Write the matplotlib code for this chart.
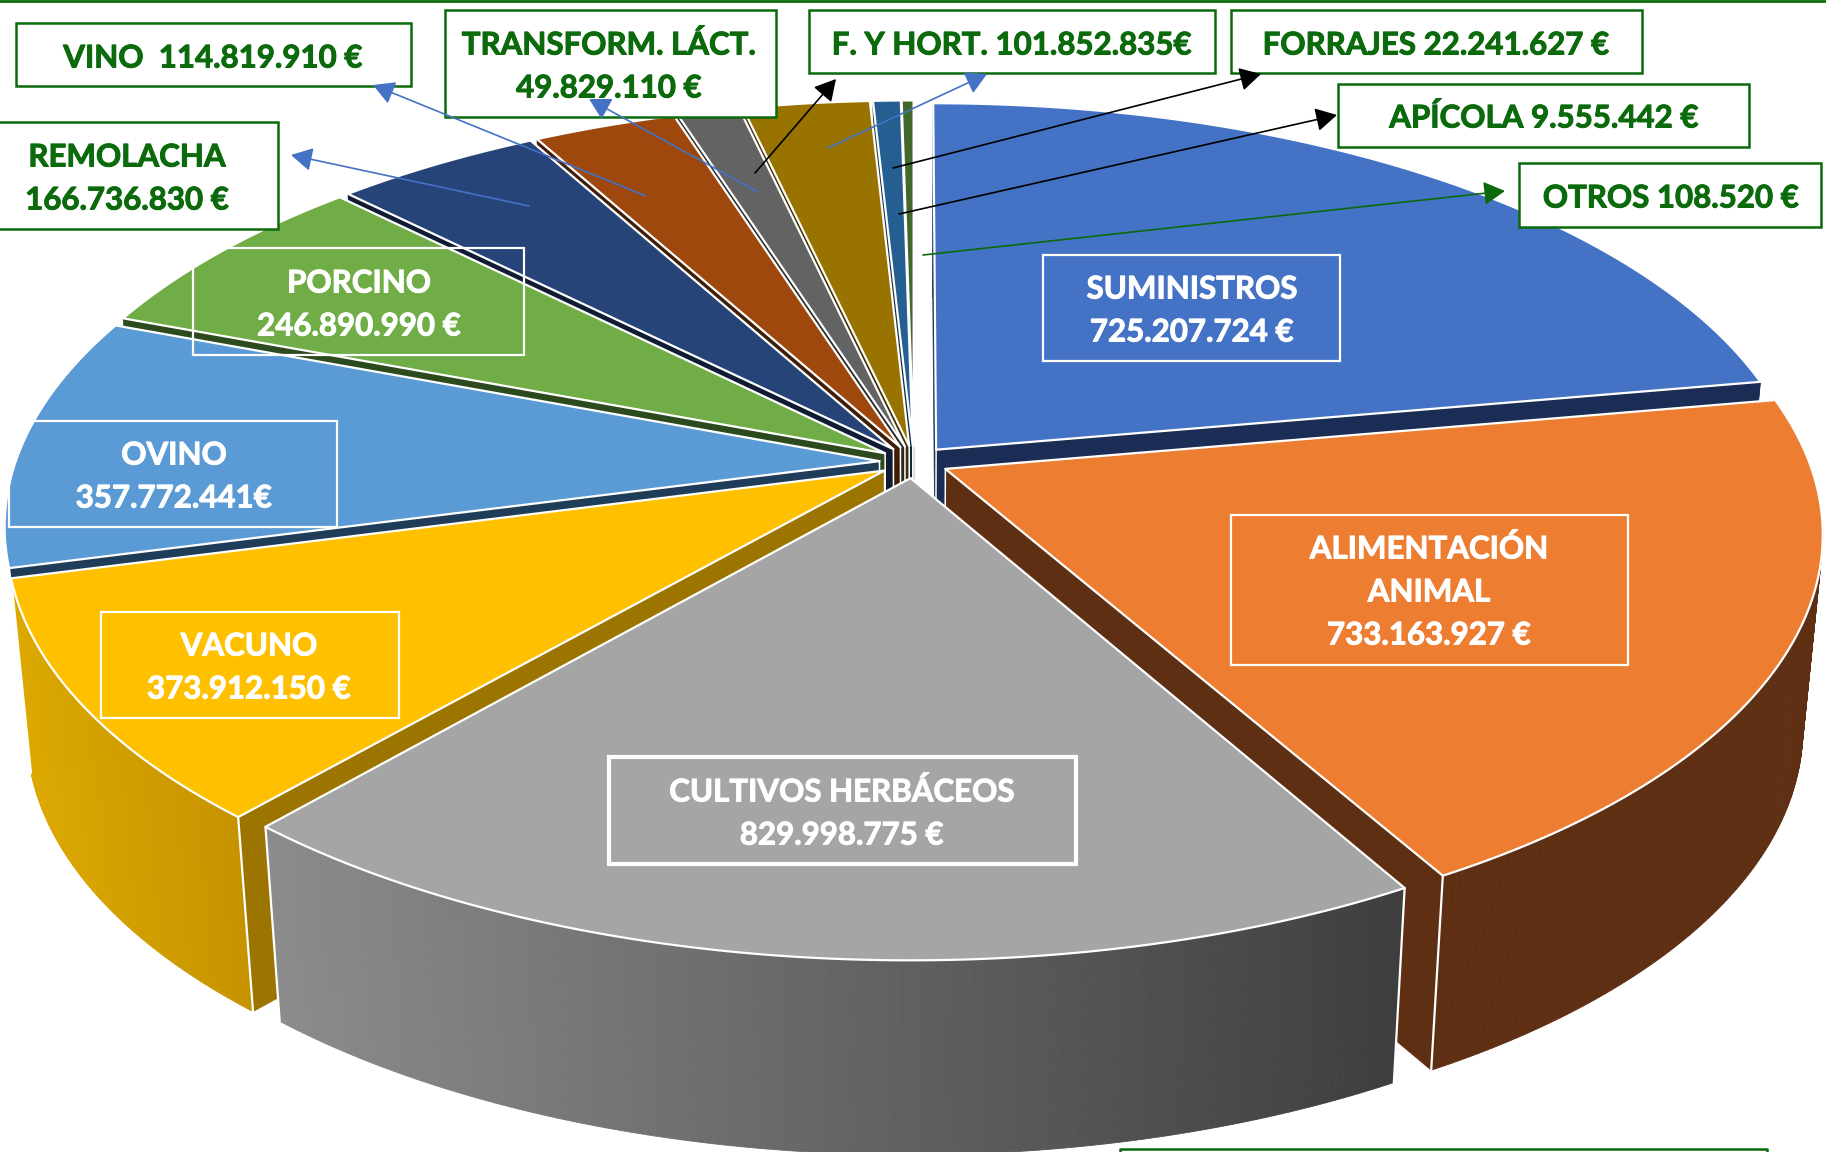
import numpy as np
import matplotlib
matplotlib.use("Agg")
import matplotlib.pyplot as plt
import matplotlib.patheffects as pe
from matplotlib.patches import Polygon, Rectangle
from matplotlib.colors import to_rgb

# ---------- data ----------
categories = ["SUMINISTROS", "ALIMENTACIÓN ANIMAL", "CULTIVOS HERBÁCEOS", "VACUNO", "OVINO", "PORCINO",
              "REMOLACHA", "VINO", "TRANSFORM. LÁCT.", "F. Y HORT.", "FORRAJES", "APÍCOLA", "OTROS"]
values = [725207724, 733163927, 829998775, 373912150, 357772441, 246890990,
          166736830, 114819910, 49829110, 101852835, 22241627, 9555442, 108520]
top_colors = ["#4472C4", "#ED7D31", "#A5A5A5", "#FFC000", "#5B9BD5", "#70AD47",
              "#264478", "#9E480E", "#636363", "#997300", "#255E91", "#43682B", "#698ED0"]
face_colors = ["#1B2D55", "#5F2F14", "#5A5A5A", "#9C7500", "#1F3D58", "#2C4A1E",
               "#0F1C33", "#3F1D06", "#282828", "#3F2F00", "#10283F", "#1E2E13", "#2A3A55"]
rim_left = ["#1B2D55", "#5F2F14", "#8C8C8C", "#DDA900", "#1F3D58", "#2C4A1E",
            "#0F1C33", "#3F1D06", "#282828", "#3F2F00", "#10283F", "#1E2E13", "#2A3A55"]
rim_right = ["#1B2D55", "#5F2F14", "#3E3E3E", "#C69300", "#1F3D58", "#2C4A1E",
             "#0F1C33", "#3F1D06", "#282828", "#3F2F00", "#10283F", "#1E2E13", "#2A3A55"]
draw_order = [12, 11, 10, 9, 8, 7, 6, 5, 0, 4, 3, 1, 2]

inner_labels = ["SUMINISTROS\n725.207.724 €", "ALIMENTACIÓN\nANIMAL\n733.163.927 €",
                "CULTIVOS HERBÁCEOS\n829.998.775 €", "VACUNO\n373.912.150 €",
                "OVINO\n357.772.441€", "PORCINO\n246.890.990 €"]
outer_labels = ["VINO  114.819.910 €", "TRANSFORM. LÁCT.\n49.829.110 €", "F. Y HORT. 101.852.835€",
                "FORRAJES 22.241.627 €", "APÍCOLA 9.555.442 €", "OTROS 108.520 €",
                "REMOLACHA\n166.736.830 €"]

# ---------- layout (pixels of the 1826x1152 picture) ----------
W, H = 1826, 1152
CX, CY, A, B, K = 914, 462, 864, 403, 0.153
EXPLODE, DEPTH, SHRINK = 0.04, 194.5, 0.978
inner_pos = [(1192, 309), (1429, 590.5), (842, 812), (249, 666), (174, 475), (359, 303)]
inner_box = [(1043, 255, 1340, 361), (1231, 515, 1628, 665), (609, 757, 1076, 864),
             (101, 612, 399, 718), (9, 421, 337, 527), (193, 248, 524, 355)]
inner_lw = [1.6, 1.6, 3.0, 1.6, 1.6, 1.6]
outer_pos = [(213, 56.5), (609, 65), (1012, 43.5), (1436, 43.5), (1544, 116.5), (1671, 196.5), (127, 177)]
outer_box = [(16, 23, 411, 86), (445, 10, 776, 117), (809, 10, 1215, 73), (1231, 10, 1642, 73),
             (1338, 84, 1749, 147), (1519, 163, 1821, 227), (-3, 122, 278, 229)]
GREEN = "#0B6A0B"
arrows = [((646, 196), (373, 85), "#4472C4"), ((529, 206), (291, 155), "#4472C4"),
          ((758, 192), (589, 99), "#4472C4"), ((755, 173), (836, 79), "black"),
          ((828, 148), (987, 74), "#4472C4"), ((893, 168), (1261, 74), "black"),
          ((899, 214), (1337, 115), "black"), ((923, 255), (1505, 191), GREEN)]

plt.rcParams["font.family"] = ["Lato", "DejaVu Sans"]
fig = plt.figure(figsize=(W / 100, H / 100), dpi=100, facecolor="white")
ax = fig.add_axes([0, 0, 1, 1])
ax.set_xlim(0, W)
ax.set_ylim(H, 0)
ax.axis("off")


def warp(t):
    # the reference's 3D view widens the two first slices on screen
    return np.interp(t, [0, 70, 140.7, 220.8, 256.9, 291.4, 315.2, 360],
                     [0, 80, 150.5, 221, 255.3, 290.9, 315.2, 360])


def project(t_deg, r, off):
    t = np.radians(t_deg)
    x = r * np.sin(t) + off[0]
    y = -r * np.cos(t) + off[1]
    w = 1 - K * y
    return CX + A * x / w, CY + B * y / w


def down(p, frac=1.0):
    return CX + (p[0] - CX) * (1 - (1 - SHRINK) * frac), p[1] + DEPTH * frac


vals = np.array(values, dtype=float)
edges = warp(np.concatenate([[0], np.cumsum(vals)]) / vals.sum() * 360)

EC = "white"
for i in draw_order:
    t0, t1 = edges[i], edges[i + 1]
    m = np.radians((t0 + t1) / 2)
    off = (EXPLODE * np.sin(m), -EXPLODE * np.cos(m))
    ts = np.linspace(t0, t1, max(3, int((t1 - t0) * 2) + 1))
    apex = project(0, 0, off)
    rim = [project(t, 1, off) for t in ts]
    # radial faces; on the back slices only the strip above the next slice can show
    low = 0.12 if i >= 4 else 1.0
    for p in (rim[0], rim[-1]):
        ax.add_patch(Polygon([apex, p, down(p, low), down(apex)], closed=True, fc=face_colors[i],
                             ec=face_colors[i], lw=0.5, zorder=2))
    # seam down from the apex, seen between the small slices
    da = down(apex)
    ax.plot([apex[0], da[0]], [apex[1], da[1]], color=EC, lw=1.1, zorder=2)
    # rim wall (front slices only), painted in strips for the left-to-right shade
    if i < 4:
        c0, c1 = np.array(to_rgb(rim_left[i])), np.array(to_rgb(rim_right[i]))
        xs = np.array([p[0] for p in rim])
        span = max(xs.max() - xs.min(), 1)
        for p, q in zip(rim[:-1], rim[1:]):
            f = ((p[0] + q[0]) / 2 - xs.min()) / span
            col = c0 + (c1 - c0) * f
            ax.add_patch(Polygon([p, q, down(q), down(p)], closed=True, fc=col, ec=col, lw=0.6, zorder=2))
    # white seams down the front corners
    for p in (rim[0], rim[-1]):
        if p[1] > CY + 100:
            d = down(p)
            ax.plot([p[0], d[0]], [p[1], d[1]], color=EC, lw=1.6, zorder=2, solid_capstyle="round")
    # top face
    ax.add_patch(Polygon([apex] + rim, closed=True, fc=top_colors[i], ec=EC, lw=1.6, joinstyle="round", zorder=2))


def put_text(txt, x, y, color):
    lines = txt.split("\n")
    for j, line in enumerate(lines):
        ax.text(x, y + (j - (len(lines) - 1) / 2) * 43 + 11, line, color=color, fontsize=22.5,
                fontweight="bold", ha="center", va="baseline", zorder=6,
                path_effects=[pe.withStroke(linewidth=0.7, foreground=color)])


# boxes and labels on the slices
for (x0, y0, x1, y1), lw in zip(inner_box, inner_lw):
    ax.add_patch(Rectangle((x0, y0), x1 - x0, y1 - y0, fill=False, ec="white", lw=lw, zorder=5))
for txt, (x, y) in zip(inner_labels, inner_pos):
    put_text(txt, x, y, "white")

# boxes outside the pie
for (x0, y0, x1, y1) in outer_box:
    ax.add_patch(Rectangle((x0, y0), x1 - x0, y1 - y0, fc="white", ec=GREEN, lw=1.8, zorder=3))
for txt, (x, y) in zip(outer_labels, outer_pos):
    put_text(txt, x, y, GREEN)

# frame fragments at the picture's edges
ax.plot([0, W], [0.8, 0.8], color=GREEN, lw=2, zorder=7)
ax.plot([1120, 1120, 1767, 1767], [H + 5, 1149, 1149, H + 5], color=GREEN, lw=1.8, zorder=7)

for tail, head, col in arrows:
    ax.annotate("", xy=head, xytext=tail, zorder=8,
                arrowprops=dict(arrowstyle="-|>,head_length=0.65,head_width=0.36", color=col, lw=1.2,
                                mutation_scale=20, shrinkA=0, shrinkB=0))

fig.savefig("out.png", dpi=100, facecolor="white")
